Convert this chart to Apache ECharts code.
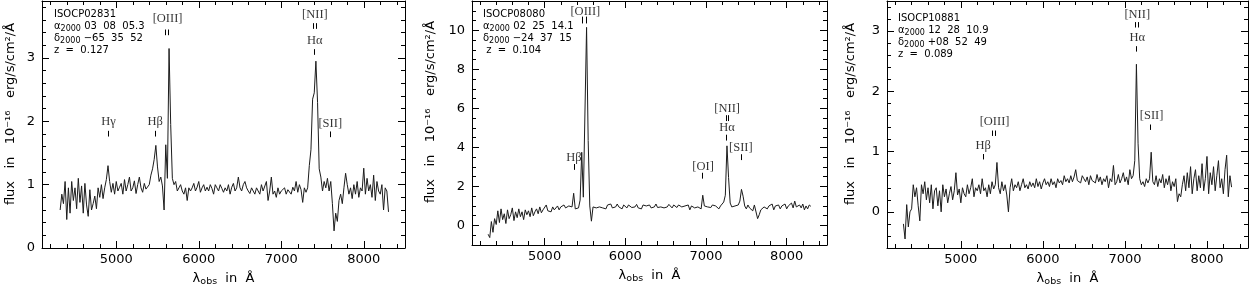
<!DOCTYPE html>
<html><head><meta charset="utf-8">
<script src="https://cdn.jsdelivr.net/npm/echarts@6/dist/echarts.min.js"></script>
<style>html,body{margin:0;padding:0;background:#fff}#c{width:1250px;height:287px}</style>
</head><body><div id="c"></div>
<script>
// ---------- data ----------
const lamStep = 20;
const lamStart1 = 4320, lamStart2 = 4300, lamStart3 = 4300;

const flux1 = [
 0.60,0.85,0.70,1.05,0.45,0.95,0.55,1.05,0.75,0.95,
 0.62,1.10,0.72,0.98,0.55,1.02,0.68,0.50,0.92,0.60,
 0.70,0.82,0.62,0.95,0.80,1.00,0.78,0.95,1.08,1.30,
 1.05,0.88,1.02,0.85,1.05,0.90,0.96,1.02,0.85,1.08,
 0.90,1.00,1.12,0.90,0.95,1.06,0.86,1.00,1.12,0.95,
 0.88,1.02,0.93,0.90,1.00,1.15,1.25,1.40,1.62,1.28,
 1.05,1.12,0.98,0.60,1.63,1.10,3.15,1.95,1.10,1.00,
 1.05,0.90,0.95,1.00,0.90,0.85,0.95,0.75,0.95,0.90,
 0.95,1.02,0.90,0.96,1.05,0.88,0.95,1.00,0.90,0.96,
 0.90,1.00,0.94,0.85,1.00,0.95,0.90,1.00,0.94,0.88,
 0.95,0.90,1.00,0.85,0.96,1.02,0.90,0.95,1.12,0.95,
 0.90,1.00,1.05,0.95,0.90,0.86,0.95,0.90,0.85,0.95,
 0.90,0.85,1.00,0.90,0.92,1.05,0.75,0.90,1.12,0.85,
 0.90,0.80,0.95,0.85,0.90,0.88,0.95,0.85,0.92,0.95,
 0.85,0.96,0.90,1.05,0.88,1.00,0.92,0.72,0.95,0.88,
 0.95,1.30,1.55,2.35,2.45,2.95,2.30,1.25,1.12,0.90,
 1.05,0.95,1.10,0.90,1.05,0.70,0.27,0.55,0.42,0.75,
 0.85,0.70,0.95,1.18,1.00,0.85,0.95,0.78,1.00,0.85,
 1.05,0.80,0.95,0.90,1.26,0.85,1.10,0.90,1.00,0.80,
 1.15,0.75,1.05,0.90,0.85,1.00,0.60,0.95,0.90,0.57
];
const flux2 = [
 -0.45,-0.62,0.20,-0.35,0.35,0.05,0.75,0.15,0.85,0.30,
 0.60,0.10,0.80,0.35,0.55,0.90,0.25,0.70,0.40,0.85,
 0.45,0.70,0.30,0.80,0.55,0.75,0.45,0.90,0.50,0.70,
 0.85,0.60,0.95,0.65,0.80,0.70,1.05,0.75,0.85,0.70,
 0.95,0.80,0.90,1.00,0.80,0.95,0.85,1.05,0.90,0.85,
 1.00,0.90,0.95,1.65,0.85,0.95,0.90,1.30,3.75,1.45,
 1.40,10.15,4.35,1.00,0.22,0.95,1.05,0.90,1.00,0.95,
 1.05,0.90,1.00,0.85,1.05,0.95,1.10,0.90,1.00,0.95,
 1.10,0.95,1.00,0.85,1.05,0.95,0.90,1.05,0.98,0.92,
 1.00,0.95,1.08,0.90,1.00,0.85,1.05,0.95,1.00,0.92,
 1.05,0.90,1.00,0.95,1.10,0.92,1.02,0.95,1.05,0.90,
 1.00,0.95,1.08,0.98,0.90,1.05,1.00,0.92,1.05,1.10,
 0.95,0.85,1.00,0.95,1.05,0.80,1.00,0.95,0.90,1.00,
 0.95,0.90,0.85,1.55,1.00,1.05,0.95,1.00,0.92,1.05,
 0.95,1.00,0.90,0.85,1.00,1.00,1.20,1.55,4.08,2.45,
 1.15,0.95,0.85,1.00,0.90,1.05,1.25,1.85,1.50,1.00,
 0.85,1.05,0.90,1.00,0.75,1.05,0.95,0.35,0.55,0.80,
 0.70,0.95,1.05,0.85,1.00,0.90,1.10,0.80,1.00,0.95,
 1.05,0.85,1.00,0.90,1.10,0.85,1.00,0.95,1.15,0.90,
 1.25,0.95,0.85,1.05,0.90,1.10,0.80,1.00,0.85,1.05,
 0.98
];
const flux3 = [
 -0.20,-0.45,0.12,-0.25,0.00,0.05,0.45,0.25,0.40,0.10,
 -0.15,0.45,0.30,0.50,0.20,0.40,0.15,0.45,0.05,0.35,
 0.40,0.10,0.35,0.00,0.45,0.25,0.38,0.15,0.30,0.42,
 0.20,0.35,0.65,0.28,0.38,0.15,0.40,0.30,0.25,0.45,
 0.30,0.40,0.55,0.25,0.40,0.35,0.45,0.30,0.55,0.35,
 0.40,0.25,0.45,0.30,0.50,0.38,0.45,0.82,0.40,0.30,
 0.50,0.35,0.45,0.28,0.00,0.40,0.55,0.35,0.45,0.40,
 0.50,0.35,0.45,0.55,0.40,0.45,0.38,0.50,0.42,0.48,
 0.40,0.55,0.42,0.50,0.38,0.48,0.55,0.45,0.50,0.42,
 0.55,0.45,0.50,0.40,0.55,0.48,0.52,0.45,0.60,0.50,
 0.55,0.48,0.60,0.50,0.58,0.70,0.52,0.55,0.48,0.60,
 0.55,0.50,0.58,0.45,0.60,0.52,0.55,0.48,0.62,0.50,
 0.58,0.45,0.55,0.50,0.60,0.40,0.55,0.50,0.77,0.45,
 0.50,0.62,0.48,0.55,0.65,0.50,0.58,0.45,0.70,0.55,
 0.60,0.85,2.45,1.14,0.55,0.45,0.50,0.42,0.55,0.48,
 0.55,0.99,0.50,0.45,0.60,0.42,0.55,0.48,0.62,0.40,
 0.55,0.45,0.60,0.35,0.50,0.42,0.55,0.17,0.30,0.25,
 0.45,0.60,0.35,0.65,0.40,0.75,0.30,0.55,0.70,0.35,
 0.60,0.40,0.80,0.35,0.55,0.92,0.30,0.65,0.45,0.75,
 0.35,0.60,0.85,0.40,0.55,0.30,0.70,0.94,0.25,0.60,
 0.41
];

// axes / ticks
const xRange = [4100, 8500];
const xMajorTicks = [5000, 6000, 7000, 8000];
const xMinorTicks = [4200,4400,4600,4800,5200,5400,5600,5800,6200,6400,6600,6800,7200,7400,7600,7800,8200,8400];
const yRange1 = [0, 3.9];
const yMajor1 = [0, 1, 2, 3];
const yMinor1 = [0.2,0.4,0.6,0.8,1.2,1.4,1.6,1.8,2.2,2.4,2.6,2.8,3.2,3.4,3.6,3.8];
const yRange2 = [-1, 11.5];
const yMajor2 = [0, 2, 4, 6, 8, 10];
const yMinor2 = [-0.5,0.5,1,1.5,2.5,3,3.5,4.5,5,5.5,6.5,7,7.5,8.5,9,9.5,10.5,11];
const yRange3 = [-0.6, 3.5];
const yMajor3 = [0, 1, 2, 3];
const yMinor3 = [-0.4,-0.2,0.2,0.4,0.6,0.8,1.2,1.4,1.6,1.8,2.2,2.4,2.6,2.8,3.2,3.4];

// object info
const objNames = ['ISOCP02831', 'ISOCP08080', 'ISOCP10881'];
const objRA = ['03  08  05.3', '02  25  14.1', '12  28  10.9'];
const objDec = ['\u221265  35  52', '\u221224  37  15', '+08  52  49'];
const objZ = ['0.127', '0.104', '0.089'];

// emission line labels [text, wavelength, flux]
const lineLabels1 = [['H\u03b3',4905,2.0],['H\u03b2',5473,2.0],['[OIII]',5622,3.62],['[NII]',7408,3.68],['H\u03b1',7406,3.28],['[SII]',7594,1.97]];
const lineTicks1 = [[4907,1.76,1.85],[5473,1.76,1.85],[5594,3.36,3.45],[5634,3.36,3.45],[7392,3.46,3.55],[7424,3.46,3.55],[7406,3.05,3.14],[7594,1.75,1.84]];
const lineLabels2 = [['[OIII]',5505,10.93],['H\u03b2',5364,3.48],['[OI]',6964,3.0],['[NII]',7262,5.96],['H\u03b1',7262,4.99],['[SII]',7432,3.99]];
const lineTicks2 = [[5468,10.35,10.7],[5518,10.35,10.7],[5364,2.85,3.15],[6957,2.4,2.7],[7246,5.35,5.65],[7279,5.35,5.65],[7254,4.35,4.65],[7440,3.35,3.65]];
const lineLabels3 = [['[NII]',7150,3.27],['H\u03b1',7150,2.89],['[SII]',7325,1.59],['[OIII]',5411,1.49],['H\u03b2',5272,1.10]];
const lineTicks3 = [[7130,3.06,3.15],[7162,3.06,3.15],[7138,2.66,2.75],[7313,1.36,1.45],[5382,1.26,1.35],[5423,1.26,1.35],[5272,0.87,0.96]];

// ---------- chart ----------
const FONT = 'DejaVu Sans';
const LFONT = 'Liberation Serif';
const panels = [
  {start: lamStart1, flux: flux1, yr: yRange1, yMaj: yMajor1, yMin: yMinor1, labels: lineLabels1, ticks: lineTicks1,
   grid: {left: 42, top: 1, width: 363, height: 247}, yTitle: {x: 11, y: 114}, info: {left: 54, top: 9}},
  {start: lamStart2, flux: flux2, yr: yRange2, yMaj: yMajor2, yMin: yMinor2, labels: lineLabels2, ticks: lineTicks2,
   grid: {left: 472, top: 1, width: 355, height: 244}, yTitle: {x: 431, y: 112}, info: {left: 483, top: 9}},
  {start: lamStart3, flux: flux3, yr: yRange3, yMaj: yMajor3, yMin: yMinor3, labels: lineLabels3, ticks: lineTicks3,
   grid: {left: 887, top: 1, width: 361, height: 247}, yTitle: {x: 851, y: 114}, info: {left: 898, top: 13}}
];

function mkAxis(gridIndex, range, pos, vals, len, showLabels, showLine, margin) {
  return {
    type: 'value', gridIndex, min: range[0], max: range[1], position: pos,
    splitLine: {show: false},
    axisLine: {show: showLine, onZero: false, lineStyle: {color: '#000', width: 1}},
    axisTick: {show: true, inside: true, length: len, customValues: vals, lineStyle: {color: '#000', width: 1}},
    axisLabel: showLabels ? {show: true, customValues: vals, margin: margin, fontFamily: FONT, fontSize: 13, color: '#000',
      formatter: v => String(v)} : {show: false},
    axisPointer: {show: false}
  };
}

const grids = [], xAxes = [], yAxes = [], series = [], graphics = [];
panels.forEach((p, i) => {
  grids.push(Object.assign({outerBoundsMode: 'none'}, p.grid));
  const xb = mkAxis(i, xRange, 'bottom', xMajorTicks, 7, true, true, 5);
  xb.name = '{a|\u03bb}{b|obs}{a|  in  \u00c5}';
  xb.nameLocation = 'middle';
  xb.nameGap = 22;
  xb.nameTextStyle = {fontFamily: FONT, fontSize: 13, color: '#000',
    rich: {a: {fontFamily: FONT, fontSize: 13, color: '#000', lineHeight: 14},
           b: {fontFamily: FONT, fontSize: 9.5, color: '#000', lineHeight: 9, padding: [6, 0, 0, 0]}}};
  xAxes.push(xb,
    mkAxis(i, xRange, 'bottom', xMinorTicks, 4, false, false),
    mkAxis(i, xRange, 'top', xMajorTicks, 7, false, true),
    mkAxis(i, xRange, 'top', xMinorTicks, 4, false, false));
  yAxes.push(mkAxis(i, p.yr, 'left', p.yMaj, 7, true, true, 7),
    mkAxis(i, p.yr, 'left', p.yMin, 4, false, false),
    mkAxis(i, p.yr, 'right', p.yMaj, 7, false, true),
    mkAxis(i, p.yr, 'right', p.yMin, 4, false, false));

  series.push({
    type: 'line', xAxisIndex: i * 4, yAxisIndex: i * 4,
    data: p.flux.map((v, k) => [p.start + k * lamStep, v]),
    showSymbol: false, symbol: 'none', silent: true,
    lineStyle: {color: '#1c1c1c', width: 1}
  });
  series.push({
    type: 'scatter', xAxisIndex: i * 4, yAxisIndex: i * 4, silent: true,
    symbolSize: 1, itemStyle: {color: 'rgba(0,0,0,0)'},
    data: p.labels.map(l => ({name: l[0], value: [l[1], l[2]]})),
    label: {show: true, position: 'inside', formatter: '{b}', fontFamily: LFONT, fontSize: 12.5, color: '#000'},
    markLine: {
      silent: true, symbol: ['none', 'none'], label: {show: false},
      lineStyle: {color: '#000', width: 1, type: 'solid'},
      data: p.ticks.map(t => [{coord: [t[0], t[1]]}, {coord: [t[0], t[2]]}])
    }
  });

  // y-axis title
  graphics.push({
    type: 'text', x: p.yTitle.x, y: p.yTitle.y, rotation: Math.PI / 2, silent: true,
    style: {
      text: 'flux   in   10\u207b\u00b9\u2076   erg/s/cm\u00b2/\u00c5',
      fill: '#000', fontFamily: FONT, fontSize: 13, align: 'center', verticalAlign: 'middle'
    }
  });

  const ind = i === 1 ? ' ' : '';
  graphics.push({
    type: 'text', left: p.info.left, top: p.info.top, silent: true,
    style: {
      text: '{t|' + objNames[i] + '}\n{t|\u03b1}{s|2000}{t| ' + objRA[i] + '}\n{t|\u03b4}{s|2000}{t| ' + objDec[i] + '}\n{t|' + ind + 'z  =  ' + objZ[i] + '}',
      fill: '#000', fontFamily: FONT, fontSize: 10,
      rich: {
        t: {fontFamily: FONT, fontSize: 10, fill: '#000', color: '#000', lineHeight: 12.3},
        s: {fontFamily: FONT, fontSize: 8, fill: '#000', color: '#000', lineHeight: 7, padding: [5, 0, 0, 0]}
      }
    }
  });
});

const chart = echarts.init(document.getElementById('c'), null, {renderer: 'canvas'});
chart.setOption({
  animation: false,
  backgroundColor: '#fff',
  grid: grids, xAxis: xAxes, yAxis: yAxes, series: series, graphic: graphics
});
</script></body></html>
